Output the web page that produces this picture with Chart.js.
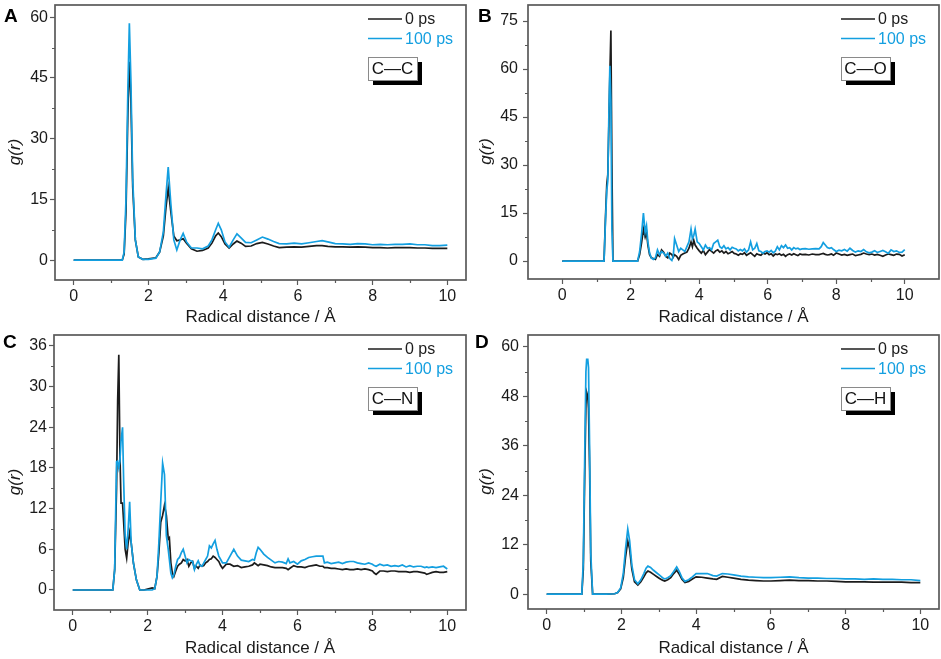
<!DOCTYPE html>
<html><head><meta charset="utf-8">
<script src="https://cdn.jsdelivr.net/npm/chart.js@4.4.1/dist/chart.umd.min.js"></script>
<style>
html,body{margin:0;padding:0;background:#fff;}
#wrap{position:relative;width:941px;height:659px;overflow:hidden;}
canvas{position:absolute;display:block;}
</style></head><body>
<div id="wrap">
<canvas id="cA" width="470" height="330" style="left:0;top:0;width:470px;height:330px"></canvas>
<canvas id="cB" width="471" height="330" style="left:470px;top:0;width:471px;height:330px"></canvas>
<canvas id="cC" width="470" height="329" style="left:0;top:330px;width:470px;height:329px"></canvas>
<canvas id="cD" width="471" height="329" style="left:470px;top:330px;width:471px;height:329px"></canvas>
</div>
<script>
// ---------- data ----------
const seriesNames = ['0 ps', '100 ps'];
const bondNames = ['C\u2014C', 'C\u2014O', 'C\u2014N', 'C\u2014H'];
const panelLetters = ['A', 'B', 'C', 'D'];
const xTitle = 'Radical distance / \u00C5';
const yTitle = 'g(r)';
const xTickVals = [0, 2, 4, 6, 8, 10];
const ccYTicks = [0, 15, 30, 45, 60];
const coYTicks = [0, 15, 30, 45, 60, 75];
const cnYTicks = [0, 6, 12, 18, 24, 30, 36];
const chYTicks = [0, 12, 24, 36, 48, 60];

// Panel A: C-C
const ccR = [0, 1.3, 1.35, 1.4, 1.45, 1.49, 1.53, 1.58, 1.65, 1.73,
  1.85, 2.0, 2.2, 2.3, 2.4, 2.47, 2.53, 2.6, 2.68, 2.76,
  2.85, 2.93, 3.02, 3.15, 3.3, 3.45, 3.6, 3.7, 3.8, 3.87,
  3.95, 4.05, 4.16, 4.27, 4.37, 4.48, 4.6, 4.75, 4.9, 5.05,
  5.2, 5.35, 5.5, 5.7, 5.9, 6.1, 6.3, 6.5, 6.65, 6.8,
  7.0, 7.2, 7.4, 7.6, 7.8, 8.0, 8.2, 8.4, 8.6, 8.8,
  9.0, 9.2, 9.4, 9.6, 9.8, 10];
const cc0ps = [0, 0, 1.5, 12, 36, 49, 40, 18, 5, 0.8,
  0.2, 0.3, 0.6, 2, 6, 13, 17.8, 12, 6, 4.8,
  5.0, 5.3, 4.2, 2.8, 2.2, 2.4, 3, 4.2, 6, 6.7,
  5.8, 4, 3, 4, 4.7, 4.2, 3.4, 3.5, 4.1, 4.4,
  4.0, 3.5, 3.1, 3.2, 3.3, 3.2, 3.4, 3.6, 3.6, 3.4,
  3.3, 3.3, 3.2, 3.3, 3.2, 3.1, 3.1, 3.0, 3.1, 3.1,
  3.1, 3.0, 3.0, 2.9, 2.9, 2.9];
const cc100ps = [0, 0, 2, 15, 42, 58.5, 45, 20, 5, 0.8,
  0.2, 0.2, 0.5, 2, 7, 16, 23, 14, 5, 2.5,
  5, 6.6, 4.5, 3, 3, 2.8, 3.5, 5, 7.5, 9.1,
  7.5, 4.5, 3.2, 5, 6.5, 5.5, 4.4, 4.3, 5, 5.7,
  5.2, 4.6, 4.1, 4.0, 4.2, 4.0, 4.3, 4.6, 4.8, 4.5,
  4.1, 4.0, 3.9, 4.1, 4.0, 3.8, 3.9, 3.8, 3.9, 3.9,
  4.0, 3.8, 3.8, 3.6, 3.6, 3.7];

// Panel B: C-O
const coR = [0, 1.22, 1.26, 1.30, 1.33, 1.36, 1.39, 1.42, 1.45, 1.48,
  1.5, 2.2, 2.26, 2.32, 2.37, 2.42, 2.46, 2.5, 2.55, 2.6,
  2.66, 2.72, 2.78, 2.84, 2.9, 2.96, 3.02, 3.08, 3.14, 3.2,
  3.24, 3.28, 3.34, 3.4, 3.46, 3.52, 3.58, 3.64, 3.7, 3.76,
  3.8, 3.84, 3.88, 3.94, 4.0, 4.06, 4.12, 4.18, 4.24, 4.3,
  4.36, 4.42, 4.48, 4.54, 4.6, 4.66, 4.72, 4.78, 4.84, 4.9,
  4.96, 5.02, 5.08, 5.14, 5.2, 5.26, 5.32, 5.38, 5.44, 5.5,
  5.56, 5.62, 5.68, 5.74, 5.8, 5.86, 5.92, 5.98, 6.04, 6.1,
  6.16, 6.22, 6.28, 6.34, 6.4, 6.46, 6.52, 6.58, 6.64, 6.7,
  6.76, 6.82, 6.88, 6.94, 7.0, 7.1, 7.2, 7.3, 7.4, 7.5,
  7.56, 7.62, 7.68, 7.74, 7.8, 7.86, 7.92, 8.0, 8.08, 8.16,
  8.24, 8.32, 8.4, 8.48, 8.56, 8.64, 8.72, 8.8, 8.88, 8.96,
  9.04, 9.12, 9.2, 9.28, 9.36, 9.44, 9.52, 9.6, 9.68, 9.76,
  9.84, 9.92, 10.0];
const co0ps = [0, 0, 13, 24, 27, 42, 58, 72, 30, 0,
  0, 0, 2, 6, 10, 7.5, 9, 5, 2, 1,
  0.8, 0.5, 2, 1.5, 3.5, 2.8, 1.5, 1, 2.5, 2,
  1.2, 2, 1.5, 0.5, 1.8, 2.2, 2.5, 2.8, 4, 6,
  4.5, 6.5, 5, 4, 3.2, 2.5, 3.3, 2, 2.8, 3.6,
  3, 2.5, 3.2, 3.5, 2.8, 3.2, 2.5, 3, 2.3, 2.6,
  3, 2.4, 2.2, 1.8, 2.3, 2.1, 2.6, 1.8, 2.2, 2.6,
  2, 1.5, 2.3, 2, 1.8, 2.5, 2.2, 2.6, 2, 2.3,
  1.6, 2.2, 2, 2.3, 1.8, 2.1, 1.5, 2, 2.2, 1.9,
  2.3, 2, 1.7, 2.2, 2, 2.1, 1.9, 2.2, 2, 2,
  2.2, 2.4, 2.1, 1.9, 2, 2.2, 1.8, 2.5, 2.2, 1.9,
  2.1, 1.8, 2, 2.2, 1.7, 1.9, 2.1, 2.5, 2.2, 2,
  2.2, 1.9, 2.1, 1.8, 1.5, 1.9, 2.2, 2, 1.8, 2.2,
  2.1, 1.6, 2.0];
const co100ps = [0, 0, 12, 22, 25, 45, 61, 50, 10, 0,
  0, 0, 3, 9, 15, 9, 11, 6, 2.5, 1,
  0.5, 1, 3.5, 2, 3, 2.5, 1.5, 2.5, 0.8, 0.2,
  1.5, 7, 5, 3, 4, 3.5, 3, 4.5, 6, 10,
  7, 8, 10, 6, 5.5, 4.5, 3.5, 5, 4, 4.2,
  3.5, 5.5, 6, 6.5, 4.5, 4, 4.8, 3.8, 4.2, 3.5,
  4.3, 4, 3.8, 3.2, 3.6, 3.2, 3.8, 2.8, 3.5, 6,
  3.5, 4, 5.5, 3.2, 3, 2.5, 3, 3.2, 2.8, 3.3,
  2.6, 3.1, 4.5, 3.5, 4.8, 4.2, 5, 4, 4.2, 3.5,
  4.2, 3.8, 4, 3.6, 3.8, 3.9, 3.7, 3.8, 3.9, 3.8,
  4.5, 5.8, 5, 4.2, 4, 4.2, 3.6, 3.0, 3.4, 3.2,
  3.6, 3.1, 4.0, 3.3, 2.8, 3.2, 3.0, 3.6, 2.9, 2.6,
  2.8, 3.2, 2.7, 3.0, 3.3, 2.9, 2.4, 3.5, 3.0, 3.2,
  2.7, 2.8, 3.6];

// Panel C: C-N
const cnR = [0, 1.07, 1.12, 1.17, 1.20, 1.23, 1.26, 1.29, 1.33, 1.36,
  1.40, 1.44, 1.48, 1.52, 1.56, 1.62, 1.70, 1.79, 1.9, 2.05,
  2.12, 2.19, 2.25, 2.3, 2.35, 2.4, 2.45, 2.5, 2.55, 2.58,
  2.62, 2.66, 2.7, 2.75, 2.8, 2.85, 2.9, 2.95, 3.0, 3.05,
  3.1, 3.15, 3.2, 3.25, 3.3, 3.35, 3.4, 3.45, 3.5, 3.55,
  3.6, 3.65, 3.7, 3.75, 3.8, 3.85, 3.9, 3.95, 4.0, 4.1,
  4.2, 4.3, 4.4, 4.5, 4.6, 4.7, 4.8, 4.85, 4.9, 4.95,
  5.0, 5.1, 5.2, 5.3, 5.4, 5.5, 5.6, 5.7, 5.75, 5.8,
  5.9, 6.0, 6.1, 6.2, 6.3, 6.4, 6.5, 6.6, 6.68, 6.72,
  6.8, 6.9, 7.0, 7.1, 7.2, 7.3, 7.4, 7.5, 7.6, 7.7,
  7.8, 7.9, 8.0, 8.05, 8.1, 8.2, 8.3, 8.4, 8.5, 8.6,
  8.7, 8.8, 8.9, 9.0, 9.1, 9.2, 9.3, 9.4, 9.45, 9.5,
  9.6, 9.7, 9.8, 9.9, 10.0];
const cn0ps = [0, 0, 3, 15, 28, 34.7, 20, 12.8, 12.8, 10,
  6, 4.7, 7, 8.5, 7, 4, 1.5, 0, 0, 0.2,
  0.3, 0.2, 2, 5.5, 10, 11, 12.5, 11, 7.5, 7.7,
  4, 2.5, 2, 2.8, 3.5, 3.8, 4, 4.5, 4.3, 4.5,
  3.5, 4, 4.2, 3.2, 3.5, 3.2, 3.7, 3.5, 3.6, 4,
  4.2, 4.5, 4.6, 5, 4.8, 4.5, 4.2, 3.6, 3.2, 3.8,
  3.8, 3.5, 3.6, 3.3, 3.4, 3.5, 3.7, 4, 3.8, 3.6,
  3.8, 3.7, 3.6, 3.4, 3.3, 3.3, 3.3, 3.2, 3.0, 3.2,
  3.6, 3.4, 3.4, 3.3, 3.5, 3.6, 3.7, 3.5, 3.5, 3.3,
  3.3, 3.2, 3.2, 3.1, 3, 3.1, 3, 3, 3.1, 3,
  3.1, 3, 2.8, 2.5, 2.3, 2.8, 2.8, 2.7, 2.8, 2.8,
  2.7, 2.7, 2.7, 2.6, 2.7, 2.7, 2.6, 2.5, 2.3, 2.4,
  2.6, 2.7, 2.6, 2.6, 2.7];
const cn100ps = [0, 0, 3, 18.9, 19, 18, 19, 22, 24, 16,
  8, 6, 9, 13, 7, 4, 1.5, 0, 0, 0,
  0, 0.2, 2, 7, 13, 18.7, 17, 8, 6, 4.5,
  2.5, 1.8, 2.2, 3.5, 4.5, 4.8, 5.5, 6, 5, 4,
  4.5, 4.3, 4.2, 3, 3.8, 4.3, 3.6, 3.5, 4, 4.5,
  5, 6.5, 6.2, 6.8, 7.3, 6, 5, 4.5, 4, 4,
  5, 6, 5, 4.4, 4.3, 4.2, 4.5, 4.4, 5.5, 6.3,
  6, 5.3, 4.8, 4.4, 4, 4.2, 4.1, 3.9, 4.6, 4,
  4.2, 3.8, 4.3, 4.5, 4.8, 4.9, 5, 5, 5, 4,
  4.1, 3.9, 4, 4.1, 3.9, 4.1, 4.2, 4.2, 4, 3.9,
  3.8, 4, 3.8, 3.6, 3.5, 3.8, 3.6, 3.7, 3.5, 3.6,
  3.5, 3.7, 3.4, 3.6, 3.4, 3.5, 3.5, 3.3, 3.4, 3.3,
  3.4, 3.3, 3.4, 3.5, 3.1];

// Panel D: C-H
const chR = [0, 0.94, 0.98, 1.02, 1.05, 1.07, 1.10, 1.12, 1.15, 1.18,
  1.23, 1.4, 1.6, 1.82, 1.9, 1.98, 2.05, 2.11, 2.17, 2.22,
  2.28, 2.35, 2.44, 2.52, 2.6, 2.66, 2.71, 2.78, 2.86, 2.94,
  3.02, 3.1, 3.16, 3.24, 3.32, 3.4, 3.48, 3.55, 3.62, 3.7,
  3.8, 3.9, 4.0, 4.15, 4.3, 4.45, 4.55, 4.7, 4.85, 5.0,
  5.2, 5.4, 5.6, 5.8, 6.0, 6.25, 6.5, 6.75, 7.0, 7.25,
  7.5, 7.75, 8.0, 8.25, 8.5, 8.75, 9.0, 9.25, 9.5, 9.75,
  10.0];
const ch0ps = [0, 0, 6, 30, 46, 49, 48, 45, 30, 8,
  0, 0, 0, 0.1, 0.4, 1.3, 4, 9, 12.9, 11,
  6, 3, 2.2, 3, 4.2, 5.2, 5.6, 5.3, 4.8, 4.3,
  3.8, 3.4, 3.2, 3.5, 4, 5, 5.8, 4.8, 3.6, 2.8,
  3.1, 3.7, 4.2, 4.1, 3.9, 3.7, 3.6, 4.3, 4.1, 3.9,
  3.6, 3.4, 3.3, 3.2, 3.2, 3.3, 3.4, 3.3, 3.3, 3.2,
  3.2, 3.1, 3.0, 3.0, 3.0, 2.9, 2.9, 2.9, 2.9, 2.8,
  2.8];
const ch100ps = [0, 0, 8, 35, 54, 57, 57, 55, 35, 10,
  0, 0, 0, 0.1, 0.4, 1.5, 5, 11, 15.8, 13,
  7, 3.5, 2.5, 3.5, 5, 6.3, 6.8, 6.5, 5.8, 5.2,
  4.6, 4, 3.7, 4, 4.5, 5.5, 6.6, 5.5, 4, 3.1,
  3.5, 4.2, 5, 5, 5, 4.5, 4.4, 5, 4.9, 4.7,
  4.4, 4.2, 4.1, 4, 4, 4.1, 4.2, 4, 3.9, 3.9,
  3.8, 3.8, 3.7, 3.7, 3.6, 3.7, 3.6, 3.6, 3.5, 3.5,
  3.3];

// ---------- styles / layout ----------
const FONT = '"Liberation Sans", Arial, Helvetica, sans-serif';
const COL0 = '#1c1c1c';
const COL100 = '#139fe0';
const FRAME = '#5a5a5a';
const TXT = '#1a1a1a';

const panels = [
  {id:'cA', i:0, r:ccR, s0:cc0ps, s1:cc100ps, yt:ccYTicks, xMin:-0.5, xMax:10.5, yMin:-4.9, yMax:63,
   pad:{left:0, top:5, right:4, bottom:0}, yW:55, xH:50, yLblPad:2, yTitlePad:5, xTitlePad:2, letter:{x:4, y:22}},
  {id:'cB', i:1, r:coR, s0:co0ps, s1:co100ps, yt:coYTicks, xMin:-1, xMax:11, yMin:-5.6, yMax:80,
   pad:{left:0, top:5, right:2, bottom:0}, yW:58, xH:51, yLblPad:5, yTitlePad:6, xTitlePad:2, letter:{x:8, y:22}},
  {id:'cC', i:2, r:cnR, s0:cn0ps, s1:cn100ps, yt:cnYTicks, xMin:-0.5, xMax:10.5, yMin:-2.95, yMax:37.6,
   pad:{left:0, top:5, right:4, bottom:0}, yW:54, xH:49, yLblPad:2, yTitlePad:5, xTitlePad:0, letter:{x:3, y:18}},
  {id:'cD', i:3, r:chR, s0:ch0ps, s1:ch100ps, yt:chYTicks, xMin:-0.5, xMax:10.5, yMin:-3.6, yMax:62.9,
   pad:{left:0, top:5, right:2, bottom:0}, yW:58, xH:50, yLblPad:4, yTitlePad:6, xTitlePad:0, letter:{x:5, y:18}}
];

const decor = {
  id: 'decor',
  afterDraw(chart, args, o) {
    const {ctx, chartArea: a} = chart;
    const xs = chart.scales.x, ys = chart.scales.y;
    ctx.save();
    // minor ticks (midpoints between major ticks)
    ctx.strokeStyle = FRAME; ctx.lineWidth = 1.2;
    ctx.beginPath();
    for (let k = 0; k < xTickVals.length - 1; k++) {
      const v = (xTickVals[k] + xTickVals[k+1]) / 2;
      const px = Math.round(xs.getPixelForValue(v)) + 0.5;
      ctx.moveTo(px, a.bottom); ctx.lineTo(px, a.bottom + 3);
    }
    const yt = o.yt;
    for (let k = 0; k < yt.length - 1; k++) {
      const v = (yt[k] + yt[k+1]) / 2;
      const py = Math.round(ys.getPixelForValue(v)) + 0.5;
      ctx.moveTo(a.left, py); ctx.lineTo(a.left - 3, py);
    }
    ctx.stroke();
    // frame
    ctx.lineWidth = 1.7;
    ctx.strokeRect(a.left, a.top, a.right - a.left, a.bottom - a.top);
    // legend
    ctx.font = '16px ' + FONT;
    ctx.textBaseline = 'middle';
    ctx.textAlign = 'left';
    const legY = [19, 38.5];
    chart.data.datasets.forEach((ds, k) => {
      const y = legY[k];
      ctx.strokeStyle = ds.borderColor; ctx.lineWidth = 1.6;
      ctx.beginPath(); ctx.moveTo(a.right - 98, y); ctx.lineTo(a.right - 64, y); ctx.stroke();
      ctx.fillStyle = ds.borderColor;
      ctx.fillText(ds.label, a.right - 61, y + 1);
    });
    // bond label box with shadow
    const bx = a.right - 98, by = 57, bw = 49, bh = 23;
    ctx.fillStyle = '#000';
    ctx.fillRect(bx + 5, by + 5, bw, bh);
    ctx.fillStyle = '#fff';
    ctx.fillRect(bx, by, bw, bh);
    ctx.strokeStyle = '#8a8a8a'; ctx.lineWidth = 1;
    ctx.strokeRect(bx + 0.5, by + 0.5, bw, bh);
    ctx.fillStyle = '#111';
    ctx.textAlign = 'center';
    ctx.font = '17px ' + FONT;
    ctx.fillText(o.bond, bx + bw / 2, by + bh / 2 + 1);
    // panel letter
    ctx.font = 'bold 19px ' + FONT;
    ctx.textAlign = 'left';
    ctx.textBaseline = 'alphabetic';
    ctx.fillStyle = '#000';
    ctx.fillText(o.letter, o.lx, o.ly);
    ctx.restore();
  }
};

function build(p) {
  const pts = ys => p.r.map((r, k) => ({x: r, y: ys[k]}));
  return new Chart(document.getElementById(p.id), {
    type: 'line',
    data: {datasets: [
      {label: seriesNames[0], data: pts(p.s0), borderColor: COL0, backgroundColor: COL0, borderWidth: 1.7, pointRadius: 0, tension: 0, fill: false, order: 2},
      {label: seriesNames[1], data: pts(p.s1), borderColor: COL100, backgroundColor: COL100, borderWidth: 1.7, pointRadius: 0, tension: 0, fill: false, order: 1}
    ]},
    options: {
      responsive: false, animation: false, parsing: false,
      layout: {padding: p.pad, autoPadding: false},
      plugins: {
        legend: {display: false}, tooltip: {enabled: false},
        decor: {yt: p.yt, bond: bondNames[p.i], letter: panelLetters[p.i], lx: p.letter.x, ly: p.letter.y}
      },
      scales: {
        x: {
          type: 'linear', min: p.xMin, max: p.xMax,
          afterBuildTicks: s => { s.ticks = xTickVals.map(v => ({value: v})); },
          afterFit: s => { s.height = p.xH; s.paddingLeft = 0; s.paddingRight = 0; },
          grid: {display: true, drawOnChartArea: false, drawTicks: true, tickLength: 5, tickWidth: 1.2, tickColor: FRAME},
          border: {display: false},
          ticks: {font: {family: FONT, size: 16}, color: TXT, padding: 2, maxRotation: 0, autoSkip: false},
          title: {display: true, text: xTitle, font: {family: FONT, size: 17}, color: TXT, padding: {top: 0, bottom: p.xTitlePad}}
        },
        y: {
          type: 'linear', min: p.yMin, max: p.yMax,
          afterBuildTicks: s => { s.ticks = p.yt.map(v => ({value: v})); },
          afterFit: s => { s.width = p.yW; s.paddingTop = 0; s.paddingBottom = 0; },
          grid: {display: true, drawOnChartArea: false, drawTicks: true, tickLength: 5, tickWidth: 1.2, tickColor: FRAME},
          border: {display: false},
          ticks: {font: {family: FONT, size: 16}, color: TXT, padding: p.yLblPad, autoSkip: false},
          title: {display: true, text: yTitle + '    ', font: {family: FONT, size: 17, style: 'italic'}, color: TXT, padding: {top: p.yTitlePad, bottom: 0}}
        }
      }
    },
    plugins: [decor]
  });
}
panels.forEach(build);
</script>
</body></html>
